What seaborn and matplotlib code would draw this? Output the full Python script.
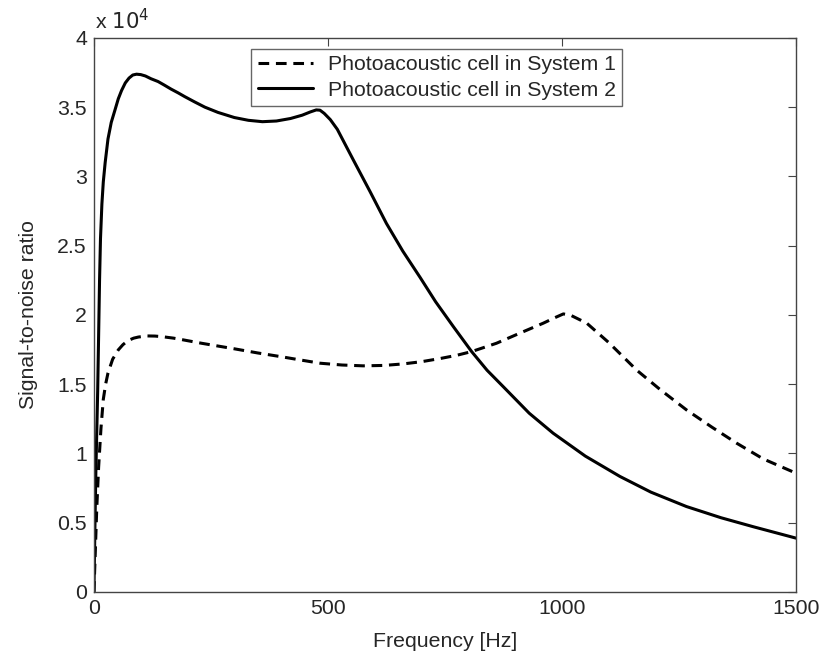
import matplotlib
matplotlib.use('Agg')
import matplotlib.pyplot as plt
import seaborn as sns
import pandas as pd
from matplotlib.ticker import FuncFormatter

# System 1 (dashed)
freq_1 = [0, 3, 6, 10, 15, 20, 25, 30, 40, 52, 62, 73, 85, 95, 113, 130, 145,
          170, 190, 230, 300, 350, 400, 440, 483, 530, 575, 620, 661, 700, 740,
          775, 807, 860, 910, 960, 985, 1003, 1020, 1053, 1100, 1130, 1160,
          1210, 1266, 1320, 1373, 1430, 1500]
snr_1 = [0, 3000, 6000, 9000, 11800, 13900, 15000, 15800, 16800, 17470, 17850,
         18150, 18320, 18400, 18480, 18470, 18430, 18320, 18200, 17950, 17550,
         17250, 16980, 16750, 16510, 16380, 16320, 16350, 16460, 16620, 16850,
         17080, 17350, 17950, 18680, 19400, 19800, 20070, 19950, 19400, 18000,
         17000, 16000, 14600, 13140, 11900, 10740, 9600, 8570]

# System 2 (solid)
freq_2 = [0, 2, 4, 6, 8, 10, 12, 14, 17, 20, 24, 30, 37, 45, 52, 59, 67, 75,
          83, 91, 100, 110, 122, 137, 150, 165, 180, 194, 215, 237, 265, 300,
          330, 360, 390, 420, 445, 462, 475, 483, 492, 505, 520, 537, 554, 590,
          625, 660, 697, 730, 768, 807, 840, 875, 930, 981, 1050, 1124, 1190,
          1266, 1340, 1409, 1500]
snr_2 = [0, 4500, 8500, 11500, 14500, 18500, 22500, 25500, 28000, 29600, 31000,
         32700, 33900, 34800, 35600, 36200, 36750, 37100, 37320, 37380, 37350,
         37250, 37050, 36850, 36600, 36300, 36030, 35760, 35380, 35000, 34620,
         34250, 34050, 33950, 34000, 34180, 34420, 34650, 34800, 34780, 34550,
         34100, 33400, 32300, 31200, 28900, 26600, 24600, 22700, 20950, 19150,
         17350, 16000, 14800, 12900, 11460, 9800, 8330, 7200, 6160, 5350, 4700,
         3880]

df1 = pd.DataFrame({'freq': freq_1, 'snr': snr_1})
df2 = pd.DataFrame({'freq': freq_2, 'snr': snr_2})

sns.set_style('white')
plt.rcParams['font.family'] = ['Liberation Sans', 'DejaVu Sans']
plt.rcParams['xtick.direction'] = 'in'
plt.rcParams['ytick.direction'] = 'in'
fs = 15.3

fig = plt.figure(figsize=(8.24, 6.65), dpi=100)
ax = fig.add_axes([0.114, 0.110, 0.852, 0.833])

sns.lineplot(data=df1, x='freq', y='snr', ax=ax, color='black', linewidth=2.2,
             linestyle=(0, (3.5, 2.2)), sort=False, label='Photoacoustic cell in System 1')
sns.lineplot(data=df2, x='freq', y='snr', ax=ax, color='black', linewidth=2.2,
             sort=False, label='Photoacoustic cell in System 2')

ax.set_xlim(0, 1500)
ax.set_ylim(0, 40000)
ax.set_xticks([0, 500, 1000, 1500])
ax.set_yticks([0, 5000, 10000, 15000, 20000, 25000, 30000, 35000, 40000])
ax.yaxis.set_major_formatter(FuncFormatter(lambda v, p: '%g' % (v / 1e4)))
ax.tick_params(top=True, right=True, length=6, width=0.8, color='#444444',
               labelsize=fs, pad=5)
for s in ax.spines.values():
    s.set_color('#444444')
    s.set_linewidth(1.0)

ax.set_xlabel('Frequency [Hz]', fontsize=fs, labelpad=10)
ax.set_ylabel('Signal-to-noise ratio', fontsize=fs, labelpad=14)
ax.text(0.002, 1.008, r'x $10^{4}$', transform=ax.transAxes, fontsize=fs,
        ha='left', va='bottom')

leg = ax.legend(loc='upper left', bbox_to_anchor=(0.224, 0.98), fontsize=fs,
                fancybox=False, framealpha=1, edgecolor='#666666',
                handlelength=2.6, borderpad=0.3, labelspacing=0.3,
                handletextpad=0.7, borderaxespad=0)
leg.get_frame().set_linewidth(1.0)

fig.savefig('out.png', dpi=100)
